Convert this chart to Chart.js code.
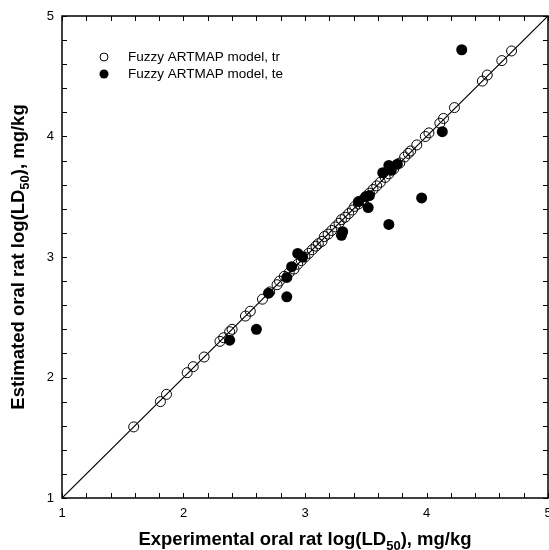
<!DOCTYPE html>
<html>
<head>
<meta charset="utf-8">
<script src="https://cdn.jsdelivr.net/npm/chart.js@4.4.1/dist/chart.umd.min.js"></script>
<style>
html,body{margin:0;padding:0;background:#fff;}
#wrap{width:549px;height:550px;position:relative;}
</style>
</head>
<body>
<div id="wrap"><canvas id="c" width="549" height="550"></canvas></div>
<script>
// Training set (open circles)
const trX = [1.59,1.81,1.86,2.03,2.08,2.17,2.30,2.33,2.38,2.40,2.51,2.55,2.65,2.71,2.77,2.79,2.83,2.87,2.91,2.94,2.97,3.00,3.03,3.06,3.09,3.11,3.14,3.16,3.19,3.22,3.25,3.28,3.30,3.33,3.36,3.39,3.41,3.44,3.47,3.50,3.53,3.56,3.59,3.62,3.66,3.69,3.73,3.78,3.82,3.85,3.87,3.92,3.99,4.02,4.11,4.14,4.23,4.46,4.50,4.62,4.70];
const trY = [1.59,1.80,1.86,2.04,2.09,2.17,2.30,2.33,2.38,2.40,2.51,2.55,2.65,2.71,2.77,2.80,2.84,2.87,2.90,2.94,2.97,3.00,3.03,3.06,3.09,3.11,3.13,3.17,3.19,3.22,3.25,3.28,3.31,3.33,3.36,3.39,3.42,3.44,3.47,3.50,3.53,3.56,3.59,3.62,3.66,3.69,3.73,3.78,3.83,3.86,3.88,3.93,4.00,4.03,4.11,4.15,4.24,4.46,4.51,4.63,4.71];
// Test set (filled circles)
const teX = [2.38,2.60,2.70,2.85,2.85,2.89,2.94,2.98,3.30,3.31,3.44,3.50,3.53,3.52,3.64,3.69,3.71,3.76,3.69,3.96,4.13,4.29];
const teY = [2.31,2.40,2.70,2.83,2.67,2.92,3.03,3.00,3.18,3.21,3.46,3.50,3.51,3.41,3.70,3.76,3.72,3.77,3.27,3.49,4.04,4.72];
// Line of identity
const diagX = [1,5];
const diagY = [1,5];
const tickValues = [1,2,3,4,5];
const seriesNames = ['Fuzzy ARTMAP model, tr','Fuzzy ARTMAP model, te'];
const xTitle = ['Experimental oral rat log(LD','50','), mg/kg'];
const yTitle = ['Estimated oral rat log(LD','50','), mg/kg'];

const pts = (xs, ys) => xs.map((x, i) => ({x: x, y: ys[i]}));
const FONT = '"Liberation Sans", Arial, Helvetica, sans-serif';

function drawSubTitle(ctx, parts, size) {
  const big = 'bold ' + size + 'px ' + FONT;
  const small = 'bold ' + Math.round(size * 0.72) + 'px ' + FONT;
  ctx.font = big; const w0 = ctx.measureText(parts[0]).width; const w2 = ctx.measureText(parts[2]).width;
  ctx.font = small; const w1 = ctx.measureText(parts[1]).width;
  const total = w0 + w1 + w2;
  let x = -total / 2;
  ctx.textAlign = 'left'; ctx.textBaseline = 'alphabetic';
  ctx.font = big; ctx.fillText(parts[0], x, 0); x += w0;
  ctx.font = small; ctx.fillText(parts[1], x, size * 0.25); x += w1;
  ctx.font = big; ctx.fillText(parts[2], x, 0);
}

const framePlugin = {
  id: 'frame',
  afterDraw(chart) {
    const {ctx, chartArea: a, scales} = chart;
    const xs = scales.x, ys = scales.y;
    ctx.save();
    ctx.strokeStyle = '#000'; ctx.lineWidth = 1.5;
    ctx.strokeRect(a.left, a.top, a.right - a.left, a.bottom - a.top);
    ctx.lineWidth = 1;
    ctx.beginPath();
    for (let v = 1; v <= 5.0001; v += 0.2) {
      const px = Math.round(xs.getPixelForValue(v)) + 0.5;
      const py = Math.round(ys.getPixelForValue(v)) + 0.5;
      ctx.moveTo(px, a.bottom); ctx.lineTo(px, a.bottom - 5);
      ctx.moveTo(px, a.top); ctx.lineTo(px, a.top + 5);
      ctx.moveTo(a.left, py); ctx.lineTo(a.left + 5, py);
      ctx.moveTo(a.right, py); ctx.lineTo(a.right - 5, py);
    }
    ctx.stroke();
    // legend
    ctx.fillStyle = '#000';
    ctx.beginPath(); ctx.arc(104, 57, 4, 0, Math.PI * 2); ctx.stroke();
    ctx.beginPath(); ctx.arc(104, 74, 4.5, 0, Math.PI * 2); ctx.fill();
    ctx.font = '13.5px ' + FONT; ctx.textAlign = 'left'; ctx.textBaseline = 'middle';
    ctx.fillText(seriesNames[0], 128, 57);
    ctx.fillText(seriesNames[1], 128, 74);
    // axis titles
    ctx.save(); ctx.translate((a.left + a.right) / 2, 545); drawSubTitle(ctx, xTitle, 18.5); ctx.restore();
    ctx.save(); ctx.translate(24, (a.top + a.bottom) / 2); ctx.rotate(-Math.PI / 2); drawSubTitle(ctx, yTitle, 18.5); ctx.restore();
    ctx.restore();
  }
};

new Chart(document.getElementById('c'), {
  type: 'scatter',
  data: {
    datasets: [
      {label: 'diag', type: 'line', data: pts(diagX, diagY), borderColor: '#000', borderWidth: 1.2, pointRadius: 0, fill: false, order: 3},
      {label: seriesNames[0], data: pts(trX, trY), pointRadius: 5, pointBorderWidth: 1, borderColor: '#000', backgroundColor: 'rgba(0,0,0,0)', pointBackgroundColor: 'rgba(0,0,0,0)', order: 2},
      {label: seriesNames[1], data: pts(teX, teY), pointRadius: 5.5, pointBorderWidth: 0, borderColor: '#000', backgroundColor: '#000', pointBackgroundColor: '#000', order: 1}
    ]
  },
  options: {
    responsive: false,
    animation: false,
    layout: {autoPadding: false, padding: {left: 0, top: 16, right: 1, bottom: 0}},
    plugins: {legend: {display: false}, tooltip: {enabled: false}},
    scales: {
      x: {
        type: 'linear', min: 1, max: 5,
        afterBuildTicks: s => { s.ticks = tickValues.map(v => ({value: v})); },
        afterFit: s => { s.height = 52; s.paddingLeft = 0; s.paddingRight = 0; },
        grid: {display: false, drawTicks: false},
        border: {display: false},
        ticks: {color: '#000', font: {family: FONT, size: 13}, padding: 8, maxRotation: 0}
      },
      y: {
        type: 'linear', min: 1, max: 5,
        afterBuildTicks: s => { s.ticks = tickValues.map(v => ({value: v})); },
        afterFit: s => { s.width = 62; s.paddingTop = 0; s.paddingBottom = 0; },
        grid: {display: false, drawTicks: false},
        border: {display: false},
        ticks: {color: '#000', font: {family: FONT, size: 13}, padding: 8}
      }
    }
  },
  plugins: [framePlugin]
});
</script>
</body>
</html>
